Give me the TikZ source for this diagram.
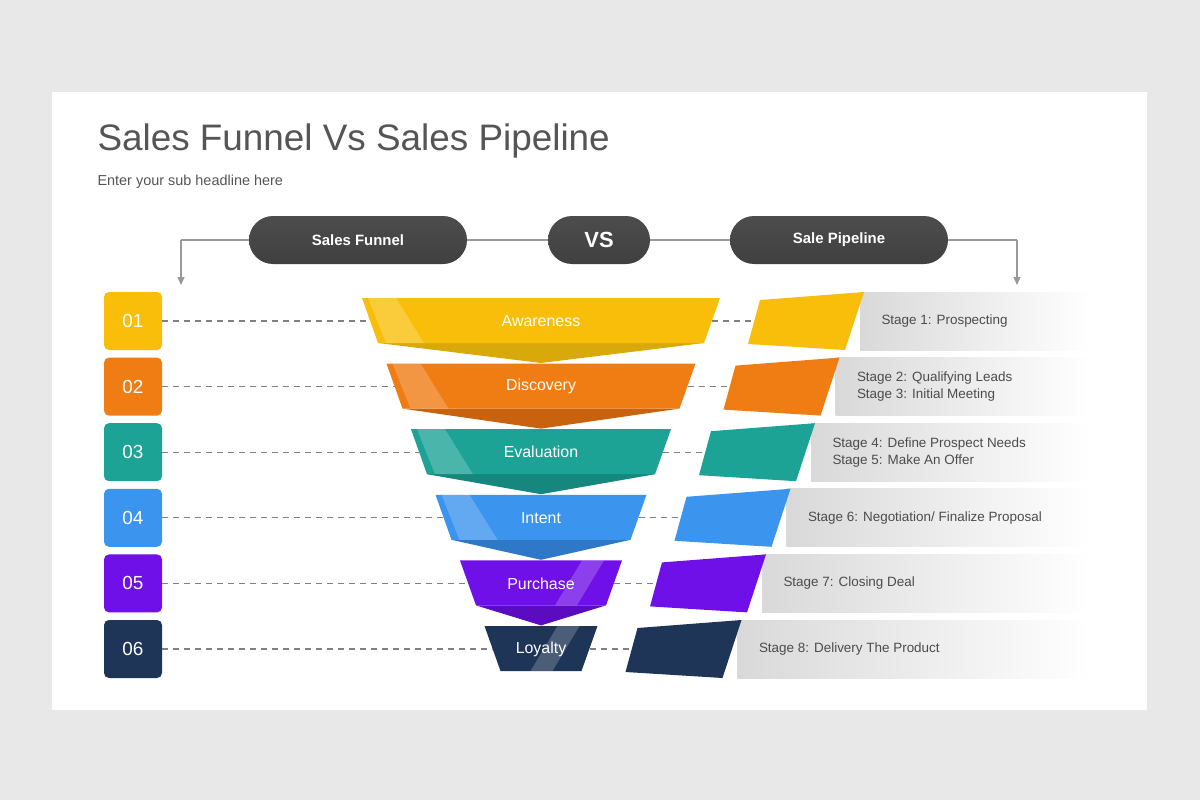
\documentclass[tikz,border=0pt]{standalone}
\usepackage{fontspec}
\setmainfont{Liberation Sans}
\usetikzlibrary{arrows.meta}
\definecolor{bg}{HTML}{E9E8E9}
\definecolor{txt}{HTML}{555555}
\definecolor{c0}{HTML}{F9BE0A}\definecolor{d0}{HTML}{D9A90C}
\definecolor{c1}{HTML}{F07C14}\definecolor{d1}{HTML}{C9620F}
\definecolor{c2}{HTML}{1CA396}\definecolor{d2}{HTML}{15877C}
\definecolor{c3}{HTML}{3B94EE}\definecolor{d3}{HTML}{2F78C8}
\definecolor{c4}{HTML}{7010E8}\definecolor{d4}{HTML}{5C0CC0}
\definecolor{c5}{HTML}{1F3557}\definecolor{d5}{HTML}{1F3557}
\tikzset{
  pill/.style={rounded corners=24bp, top color=gray!60!black, bottom color=black!75, draw=none, text=white, font=\bfseries\fontsize{15}{18}\selectfont, minimum height=48bp},
  numbox/.style={rounded corners=5bp, minimum width=58bp, minimum height=58bp, text=white, font=\fontsize{19}{22}\selectfont},
  conn/.style={draw=gray!80, line width=1.2bp},
  dline/.style={draw=gray, dash pattern=on 6bp off 5bp, line width=1.3bp},
  ftxt/.style={text=white, font=\fontsize{16}{19}\selectfont},
  stxt/.style={text=black!70, font=\fontsize{13.5}{17}\selectfont, align=left, anchor=west},
}
\begin{document}
\begin{tikzpicture}[x=1bp,y=-1bp]
\useasboundingbox (0,0) rectangle (1200,800);
\fill[bg] (0,0) rectangle (1200,800);
\fill[white] (52,92) rectangle (1147,710);
\node[anchor=west, text=txt, font=\fontsize{37}{40}\selectfont] (title) at (94,141) {Sales Funnel Vs Sales Pipeline};
\node[anchor=west, text=txt, font=\fontsize{14.5}{17}\selectfont] (sub) at (94,182) {Enter your sub headline here};
\node[pill, minimum width=218bp] (sf) at (358,240) {Sales Funnel};
\node[pill, minimum width=102bp, font=\bfseries\fontsize{22}{24}\selectfont] (vs) at (599,240) {VS};
\node[pill, minimum width=218bp] (sp) at (839,240) {Sale Pipeline};
\coordinate (la) at (181,240); \coordinate (lb) at (181,285);
\coordinate (ra) at (1017,240); \coordinate (rb) at (1017,285);
\draw[conn] (sf.west) -- (la);
\draw[conn, -{Triangle[width=7bp,length=8bp]}] (la) -- (lb);
\draw[conn] (sf.east) -- (vs.west);
\draw[conn] (vs.east) -- (sp.west);
\draw[conn] (sp.east) -- (ra);
\draw[conn, -{Triangle[width=7bp,length=8bp]}] (ra) -- (rb);
\foreach \i/\lab/\st in {0/Awareness/{Stage 1: Prospecting},
  1/Discovery/{Stage 2: Qualifying Leads\\Stage 3: Initial Meeting},
  2/Evaluation/{Stage 4: Define Prospect Needs\\Stage 5: Make An Offer},
  3/Intent/{Stage 6: Negotiation/ Finalize Proposal},
  4/Purchase/{Stage 7: Closing Deal},
  5/Loyalty/{Stage 8: Delivery The Product}}{
  \pgfmathsetmacro{\t}{298+65.6*\i}
  \pgfmathsetmacro{\b}{\t+45}
  \pgfmathsetmacro{\m}{\t+23}
  \pgfmathsetmacro{\L}{362+24.5*\i}
  \pgfmathsetmacro{\R}{720-24.5*\i}
  \pgfmathsetmacro{\Lb}{\L+16}
  \pgfmathsetmacro{\Rb}{\R-16}
  \pgfmathsetmacro{\s}{24.5*\i}
  \pgfmathtruncatemacro{\n}{\i+1}
  \node[numbox, fill=c\i] (n\i) at (133,\m) {0\n};
  \ifnum\i<5
    \fill[d\i] (\Lb,\b) -- (\Rb,\b) -- (541,\b+20) -- cycle;
  \fi
  \fill[c\i] (\L,\t) -- (\R,\t) -- (\Rb,\b) -- (\Lb,\b) -- cycle;
  \ifnum\i<4
    \fill[white, opacity=0.2] (\L+6,\t) -- (\L+34,\t) -- (\L+62,\b) -- (\Lb+8,\b) -- cycle;
  \else
    \fill[white, opacity=0.2] (\R-40,\t) -- (\R-18,\t) -- (\R-45,\b) -- (\R-67,\b) -- cycle;
  \fi
  \node[ftxt] (f\i) at (541,\m) {\lab};
  \coordinate (fl\i) at ({\L+8},\m);
  \coordinate (fr\i) at ({\R-8},\m);
  \shade[left color=black!15, right color=white] (860-\s,292+65.6*\i) rectangle (1090,350+65.6*\i);
  \fill[c\i] (760-\s,300+65.6*\i) -- (864-\s,292+65.6*\i) -- (845-\s,350+65.6*\i) -- (748-\s,344+65.6*\i) -- cycle;
  \coordinate (pl\i) at (755-\s,\m);
  \node[stxt] (s\i) at (878-\s,\m) {\st};
  \draw[dline] (n\i.east) -- (fl\i);
  \draw[dline] (fr\i) -- (pl\i);
}
\end{tikzpicture}
\end{document}
